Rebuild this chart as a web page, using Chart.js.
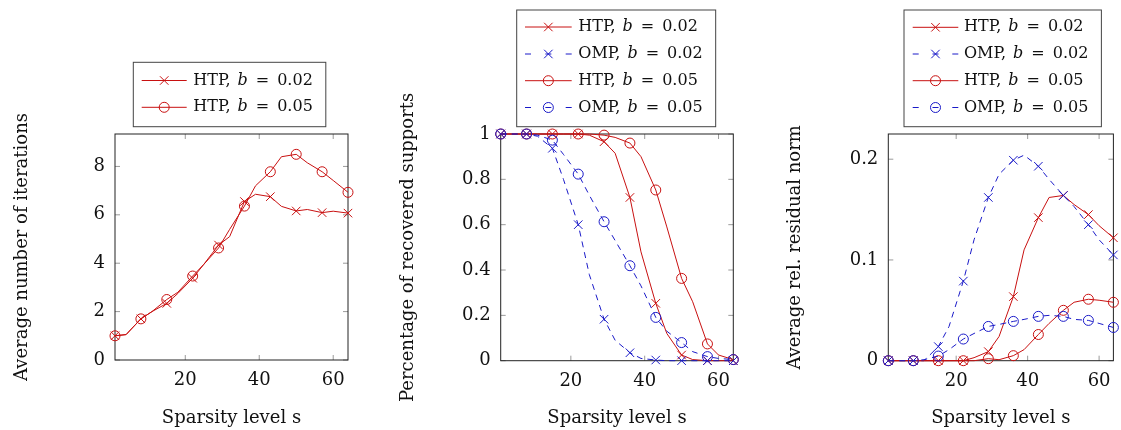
<!DOCTYPE html>
<html><head><meta charset="utf-8">
<script src="https://cdn.jsdelivr.net/npm/chart.js@4/dist/chart.umd.min.js"></script>
<style>
html,body{margin:0;padding:0;background:#fff;}
#wrap{position:relative;width:1121px;height:430px;overflow:hidden;background:#fff;}
.box{position:absolute;top:0;height:430px;}
</style></head><body>
<div id="wrap">
<div class="box" style="left:0;width:380px"><canvas id="c1"></canvas></div>
<div class="box" style="left:380px;width:380px"><canvas id="c2"></canvas></div>
<div class="box" style="left:760px;width:361px"><canvas id="c3"></canvas></div>
</div>
<script>
// ---------- data ----------
const sparsity = [1,4,8,11,15,18,22,25,29,32,36,39,43,46,50,53,57,60,64];
const markedSparsity = [1,8,15,22,29,36,43,50,57,64];
const xTickValues = [20,40,60];
const methods = ['HTP','OMP'];
const bValues = ['0.02','0.05'];

// Panel 1: average number of iterations
const iterHTP002 = [1.0,1.05,1.7,2.0,2.34,2.75,3.38,3.95,4.75,5.1,6.55,6.85,6.75,6.35,6.16,6.22,6.09,6.15,6.07];
const iterHTP005 = [1.0,1.05,1.7,2.0,2.5,2.8,3.47,3.95,4.63,5.4,6.36,7.2,7.78,8.4,8.5,8.15,7.78,7.42,6.93];
const iterYTicks = [0,2,4,6,8];

// Panel 2: percentage of recovered supports
const suppHTP002 = [1,1,1,1,1,1,1,0.995,0.966,0.915,0.72,0.48,0.253,0.12,0.025,0.005,0,0,0];
const suppOMP002 = [1,1,1,0.99,0.937,0.8,0.6,0.38,0.183,0.09,0.035,0.01,0.003,0,0,0,0,0,0];
const suppHTP005 = [1,1,1,1,1,1,1,1,0.995,0.985,0.96,0.9,0.753,0.59,0.363,0.26,0.074,0.025,0.005];
const suppOMP005 = [1,1,1,0.995,0.973,0.91,0.823,0.73,0.613,0.53,0.419,0.33,0.191,0.13,0.08,0.04,0.018,0.01,0.005];
const suppYTicks = [0,0.2,0.4,0.6,0.8,1];

// Panel 3: average relative residual norm
const resHTP002 = [0,0,0,0,0,0,0,0.003,0.009,0.024,0.0636,0.11,0.142,0.162,0.164,0.155,0.145,0.134,0.122];
const resOMP002 = [0,0,0,0,0.014,0.034,0.079,0.12,0.162,0.185,0.199,0.204,0.193,0.18,0.164,0.153,0.135,0.12,0.105];
const resHTP005 = [0,0,0,0,0,0,0,0,0.002,0.001,0.005,0.011,0.026,0.037,0.05,0.058,0.061,0.06,0.058];
const resOMP005 = [0,0,0,0.001,0.0046,0.011,0.0215,0.027,0.034,0.036,0.039,0.041,0.044,0.045,0.044,0.041,0.04,0.037,0.033];
const resYTicks = [0,0.1,0.2];

// ---------- styling ----------
const RED = '#c81010', BLUE = '#1a1ac8';
const FONT = 'DejaVu Serif';
const DASH = [6,5];

function makeDataset(method, bIdx, values, idx){
  const color = method === 'HTP' ? RED : BLUE;
  const marker = bIdx === 0 ? 'crossRot' : 'circle';
  return {
    label: method + ', b = ' + bValues[bIdx],
    method: method, bIdx: bIdx,
    data: sparsity.map((s,i)=>({x:s, y:values[i]})),
    borderColor: color, backgroundColor: 'rgba(0,0,0,0)',
    borderWidth: 1, borderDash: method === 'OMP' ? DASH : [],
    pointStyle: marker,
    pointRadius: sparsity.map(s => markedSparsity.includes(s) ? (marker==='circle'?5:6) : 0),
    pointBorderColor: color, pointBackgroundColor: 'rgba(0,0,0,0)', pointBorderWidth: 1,
    tension: 0, clip: false, order: 10 - idx
  };
}

function drawMarker(ctx, style, x, y, r){
  ctx.beginPath();
  if (style === 'circle') { ctx.arc(x, y, r, 0, Math.PI*2); }
  else { const d = r*Math.SQRT1_2; ctx.moveTo(x-d,y-d); ctx.lineTo(x+d,y+d); ctx.moveTo(x+d,y-d); ctx.lineTo(x-d,y+d); }
  ctx.stroke();
}

const framePlugin = {
  id: 'frame',
  beforeDatasetsDraw(chart){
    const {ctx, chartArea:a, scales:{x, y}} = chart;
    ctx.save();
    ctx.strokeStyle = '#9a9a9a'; ctx.lineWidth = 1;
    const L = 5;
    x.ticks.forEach(t => { const p = x.getPixelForValue(t.value);
      ctx.beginPath(); ctx.moveTo(p,a.bottom); ctx.lineTo(p,a.bottom-L); ctx.moveTo(p,a.top); ctx.lineTo(p,a.top+L); ctx.stroke(); });
    y.ticks.forEach(t => { const p = y.getPixelForValue(t.value);
      ctx.beginPath(); ctx.moveTo(a.left,p); ctx.lineTo(a.left+L,p); ctx.moveTo(a.right,p); ctx.lineTo(a.right-L,p); ctx.stroke(); });
    ctx.strokeStyle = '#222'; ctx.lineWidth = 1;
    ctx.strokeRect(a.left, a.top, a.right-a.left, a.bottom-a.top);
    ctx.restore();
  }
};

const legendPlugin = {
  id: 'boxLegend',
  afterDraw(chart, args, o){
    const ctx = chart.ctx;
    const dsets = chart.data.datasets;
    ctx.save();
    const nf = '16px "' + FONT + '"', itf = 'italic 16px "' + FONT + '"';
    const G1 = 7, G2 = 8;
    let maxW = 0;
    const rows = dsets.map(d => {
      const p1 = d.method + ',', p2 = 'b', p3 = '=', p4 = bValues[d.bIdx];
      ctx.font = nf;
      const w1 = ctx.measureText(p1).width, w3 = ctx.measureText(p3).width, w4 = ctx.measureText(p4).width;
      ctx.font = itf; const w2 = ctx.measureText(p2).width;
      const total = w1 + G1 + w2 + G2 + w3 + G2 + w4;
      maxW = Math.max(maxW, total);
      return {p1,p2,p3,p4,w1,w2,w3,w4};
    });
    const right = o.textX + maxW + 13;
    ctx.fillStyle = '#fff';
    ctx.fillRect(o.left, o.top, right-o.left, o.bottom-o.top);
    ctx.strokeStyle = '#444'; ctx.lineWidth = 1;
    ctx.strokeRect(o.left, o.top, right-o.left, o.bottom-o.top);
    dsets.forEach((d,i) => {
      const yy = o.rowY[i];
      const mid = (o.s0+o.s1)/2;
      ctx.strokeStyle = d.borderColor; ctx.lineWidth = 1;
      ctx.beginPath();
      if (d.method === 'OMP') {
        ctx.moveTo(o.s0, yy); ctx.lineTo(o.s0+6, yy);
        ctx.moveTo(mid-3, yy); ctx.lineTo(mid+3, yy);
        ctx.moveTo(o.s1-6, yy); ctx.lineTo(o.s1, yy);
      } else { ctx.moveTo(o.s0, yy); ctx.lineTo(o.s1, yy); }
      ctx.stroke();
      drawMarker(ctx, d.pointStyle, mid, yy, d.pointStyle==='circle'?5:6);
      const r = rows[i];
      ctx.fillStyle = '#111'; ctx.textBaseline = 'middle'; ctx.textAlign = 'left';
      let x = o.textX;
      ctx.font = nf; ctx.fillText(r.p1, x, yy); x += r.w1 + G1;
      ctx.font = itf; ctx.fillText(r.p2, x, yy); x += r.w2 + G2;
      ctx.font = nf; ctx.fillText(r.p3, x, yy); x += r.w3 + G2;
      ctx.fillText(r.p4, x, yy);
    });
    ctx.restore();
  }
};

function makeChart(id, cfg){
  const tickFont = {family: FONT, size: 18};
  const fmt = v => String(Math.round(v*1000)/1000);
  return new Chart(document.getElementById(id), {
    type: 'line',
    data: { datasets: cfg.datasets },
    options: {
      responsive: true, maintainAspectRatio: false, animation: false, devicePixelRatio: 1,
      events: [],
      layout: { padding: { top: 134, right: cfg.padRight, bottom: 0, left: 0 } },
      plugins: { legend: {display:false}, tooltip: {enabled:false}, boxLegend: cfg.legend },
      scales: {
        x: {
          type: 'linear', min: 1, max: 64,
          afterBuildTicks: s => { s.ticks = xTickValues.map(v => ({value: v})); },
          afterFit: s => { s.height = cfg.xHeight; },
          grid: {display:false, drawTicks:false}, border: {display:false},
          ticks: {font: tickFont, color: '#111', padding: 10, maxRotation: 0, autoSkip: false, callback: fmt},
          title: {display: true, text: 'Sparsity level s', font: tickFont, color: '#111', padding: {top:0, bottom: 1.2}}
        },
        y: {
          type: 'linear', min: cfg.yMin, max: cfg.yMax,
          afterBuildTicks: s => { s.ticks = cfg.yTicks.map(v => ({value: v})); },
          afterFit: s => { s.width = cfg.yWidth; },
          grid: {display:false, drawTicks:false}, border: {display:false},
          ticks: {font: tickFont, color: '#111', padding: 10, autoSkip: false, callback: fmt},
          title: {display: true, text: cfg.yTitle, font: tickFont, color: '#111', padding: {top: cfg.yTitlePad, bottom: 0}}
        }
      }
    },
    plugins: [framePlugin, legendPlugin]
  });
}

makeChart('c1', {
  datasets: [makeDataset('HTP',0,iterHTP002,0), makeDataset('HTP',1,iterHTP005,1)],
  padRight: 32, xHeight: 70, yWidth: 115, yMin: 0, yMax: 9.34, yTicks: iterYTicks,
  yTitle: 'Average number of iterations', yTitlePad: 11.2,
  legend: {left: 133.3, top: 62.3, bottom: 126.7, rowY: [80.5, 107.3], s0: 141.7, s1: 186.7, textX: 193.3}
});
makeChart('c2', {
  datasets: [makeDataset('HTP',0,suppHTP002,0), makeDataset('OMP',0,suppOMP002,1), makeDataset('HTP',1,suppHTP005,2), makeDataset('OMP',1,suppOMP005,3)],
  padRight: 26.7, xHeight: 69.3, yWidth: 120.7, yMin: 0, yMax: 1, yTicks: suppYTicks,
  yTitle: 'Percentage of recovered supports', yTitlePad: 17.2,
  legend: {left: 136.7, top: 10, bottom: 126.7, rowY: [27, 54, 80.7, 107.5], s0: 145, s1: 191.7, textX: 198.3}
});
makeChart('c3', {
  datasets: [makeDataset('HTP',0,resHTP002,0), makeDataset('OMP',0,resOMP002,1), makeDataset('HTP',1,resHTP005,2), makeDataset('OMP',1,resOMP005,3)],
  padRight: 0.7, xHeight: 69.3, yWidth: 128.3, yMin: 0, yMax: 0.225, yTicks: resYTicks,
  yTitle: 'Average rel. residual norm', yTitlePad: 24.2,
  legend: {left: 144, top: 10, bottom: 126.7, rowY: [27.3, 54, 80.7, 107.5], s0: 152.7, s1: 198.3, textX: 204}
});
</script>
</body></html>
